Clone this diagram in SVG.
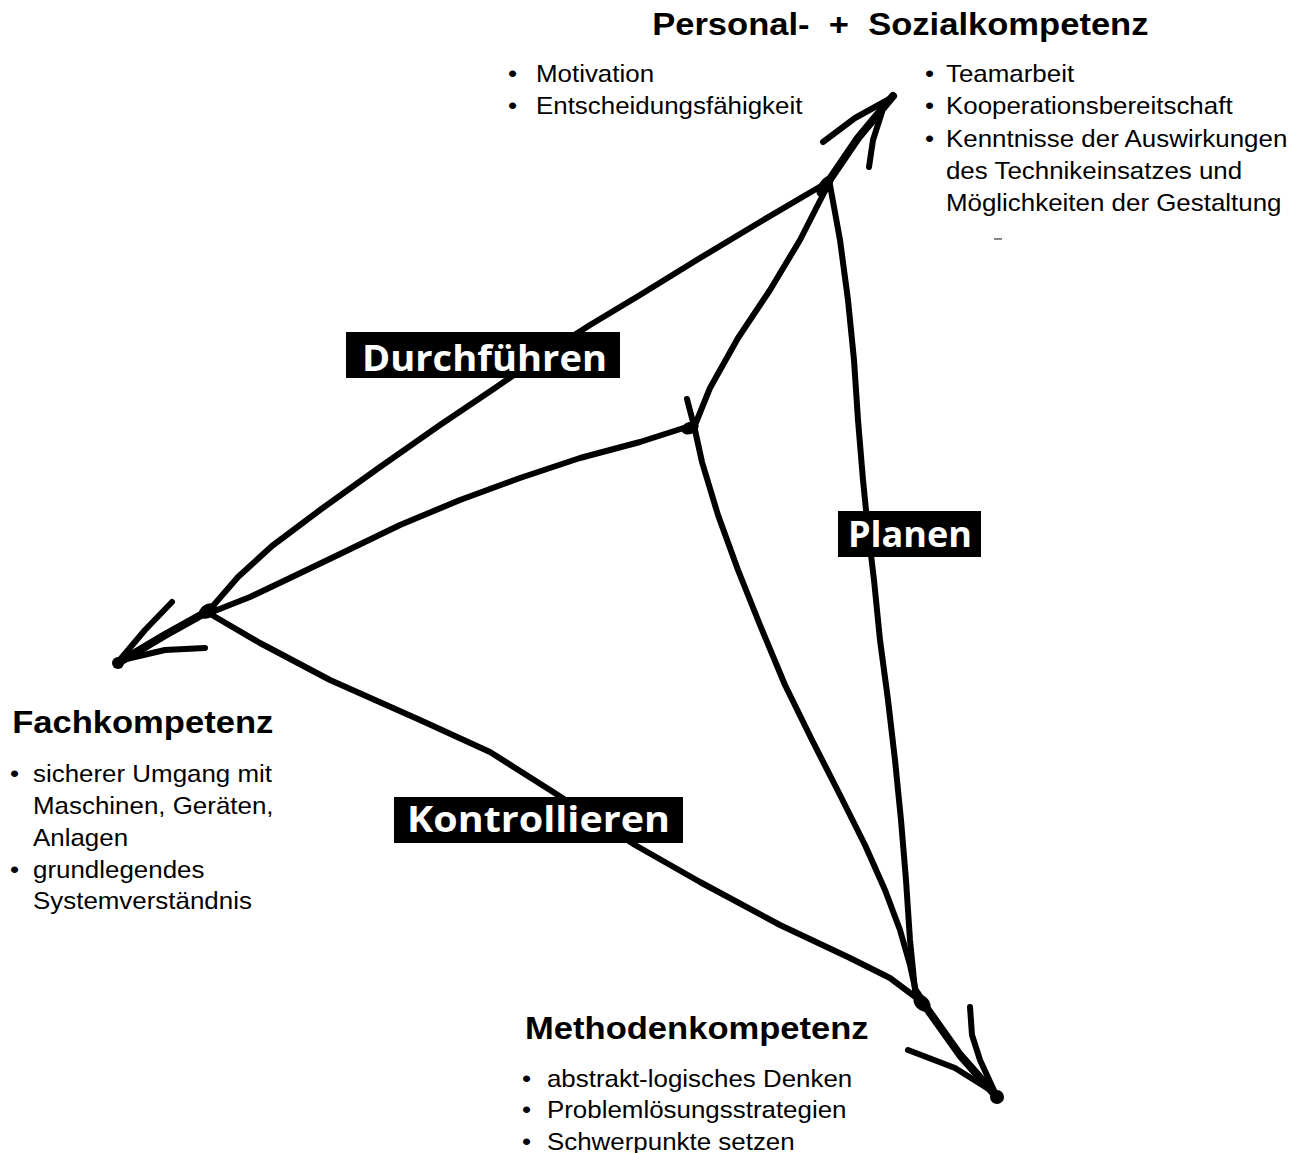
<svg xmlns="http://www.w3.org/2000/svg" width="1301" height="1153" viewBox="0 0 1301 1153">
<style>
.t{font-family:"Liberation Sans",Arial,sans-serif;font-size:24px;fill:#000}
.h{font-family:"Liberation Sans",Arial,sans-serif;font-size:32px;font-weight:bold;fill:#000}
.ln{fill:none;stroke:#000;stroke-width:6;stroke-linecap:round;stroke-linejoin:round}
.thk{fill:none;stroke:#000;stroke-width:8;stroke-linecap:round;stroke-linejoin:round}
.lb{fill:#000}
.lt{font-family:"Open Sans","Noto Sans",sans-serif;font-size:36px;font-weight:bold;fill:#fff}
</style>
<rect width="1301" height="1153" fill="#fff"/>
<g id="connectors">
  <path class="ln" d="M828,182 L760,222 L700,258 L640,295 L590,325 L540,357 L495,388 L440,425 L380,467 L320,510 L272,546 L238,577 L212,607"/>
  <path class="ln" d="M693,425 L640,442 L580,458 L520,478 L460,500 L400,525 L340,554 L290,578 L250,597 L212,612"/>
  <path class="ln" d="M695,425 L710,388 L738,338 L770,290 L800,240 L828,185"/>
  <path class="ln" d="M695,430 L702,462 L718,515 L738,570 L760,625 L785,685 L812,740 L840,795 L865,845 L885,890 L900,930 L910,965 L916,992"/>
  <path class="ln" d="M830,185 L840,240 L848,300 L854,360 L858,420 L863,480 L868,530 L874,580 L880,640 L888,700 L895,760 L901,820 L906,880 L910,940 L915,990"/>
  <path class="ln" d="M212,615 L260,643 L330,680 L420,720 L490,752 L550,790 L635,845 L700,882 L780,925 L850,958 L890,978 L922,1002"/>
  <path class="ln" d="M687,399 L693,422"/>
  <path class="thk" d="M826,185 L858,138 L893,96"/>
  <path class="ln" d="M893,97 L855,118 L823,142"/>
  <path class="ln" d="M882,112 L873,140 L869,167"/>
  <path class="thk" d="M210,610 L165,635 L118,663"/>
  <path class="ln" d="M118,662 L145,630 L172,602"/>
  <path class="ln" d="M122,660 L165,650 L205,648"/>
  <path class="thk" d="M916,992 L928,1010 L960,1055 L997,1097"/>
  <path class="ln" d="M997,1097 L980,1060 L972,1035 L970,1007"/>
  <path class="ln" d="M995,1093 L955,1068 L908,1050"/>
  <ellipse cx="825" cy="186" rx="6" ry="12" transform="rotate(35 825 186)" fill="#000"/>
  <ellipse cx="208" cy="611" rx="10" ry="7" transform="rotate(-30 208 611)" fill="#000"/>
  <ellipse cx="922" cy="1003" rx="10" ry="7" transform="rotate(45 922 1003)" fill="#000"/>
  <ellipse cx="690" cy="428" rx="9" ry="6" transform="rotate(-20 690 428)" fill="#000"/>
  <circle cx="118" cy="663" r="6" fill="#000"/>
  <circle cx="997" cy="1097" r="7" fill="#000"/>
  <path d="M994,239 L1002,239" stroke="#888" stroke-width="2"/>
</g>
<g id="label-durchfuehren">
  <rect class="lb" x="346" y="332" width="274" height="46"/>
  <text class="lt" x="362" y="371" textLength="245" lengthAdjust="spacingAndGlyphs">Durchführen</text>
</g>
<g id="label-planen">
  <rect class="lb" x="838" y="511" width="143" height="46"/>
  <text class="lt" x="848" y="547" textLength="124" lengthAdjust="spacingAndGlyphs">Planen</text>
</g>
<g id="label-kontrollieren">
  <rect class="lb" x="394" y="797" width="289" height="46"/>
  <text class="lt" x="407" y="832" textLength="263" lengthAdjust="spacingAndGlyphs">Kontrollieren</text>
</g>
<g id="node-personal">
  <g transform="translate(650,0) scale(1.08,1)">
    <text class="h" x="2" y="35" xml:space="preserve">Personal-  +  Sozialkompetenz</text>
  </g>
  <g transform="translate(508,0) scale(1.08,1)">
    <text class="t" x="0" y="82">•</text><text class="t" x="25.9" y="82">Motivation</text>
    <text class="t" x="0" y="114">•</text><text class="t" x="25.9" y="114">Entscheidungsfähigkeit</text>
  </g>
  <g transform="translate(925,0) scale(1.08,1)">
    <text class="t" x="0" y="82">•</text><text class="t" x="19.4" y="82">Teamarbeit</text>
    <text class="t" x="0" y="114">•</text><text class="t" x="19.4" y="114">Kooperationsbereitschaft</text>
    <text class="t" x="0" y="147">•</text><text class="t" x="19.4" y="147">Kenntnisse der Auswirkungen</text>
    <text class="t" x="19.4" y="179">des Technikeinsatzes und</text>
    <text class="t" x="19.4" y="211">Möglichkeiten der Gestaltung</text>
  </g>
</g>
<g id="node-fach">
  <g transform="translate(10,0) scale(1.08,1)">
    <text class="h" x="2" y="733">Fachkompetenz</text>
    <text class="t" x="0" y="782">•</text><text class="t" x="21.3" y="782">sicherer Umgang mit</text>
    <text class="t" x="21.3" y="814">Maschinen, Geräten,</text>
    <text class="t" x="21.3" y="846">Anlagen</text>
    <text class="t" x="0" y="878">•</text><text class="t" x="21.3" y="878">grundlegendes</text>
    <text class="t" x="21.3" y="909">Systemverständnis</text>
  </g>
</g>
<g id="node-methoden">
  <g transform="translate(522,0) scale(1.08,1)">
    <text class="h" x="2.8" y="1039">Methodenkompetenz</text>
    <text class="t" x="0" y="1087">•</text><text class="t" x="23.1" y="1087">abstrakt-logisches Denken</text>
    <text class="t" x="0" y="1118">•</text><text class="t" x="23.1" y="1118">Problemlösungsstrategien</text>
    <text class="t" x="0" y="1150">•</text><text class="t" x="23.1" y="1150">Schwerpunkte setzen</text>
  </g>
</g>
</svg>
